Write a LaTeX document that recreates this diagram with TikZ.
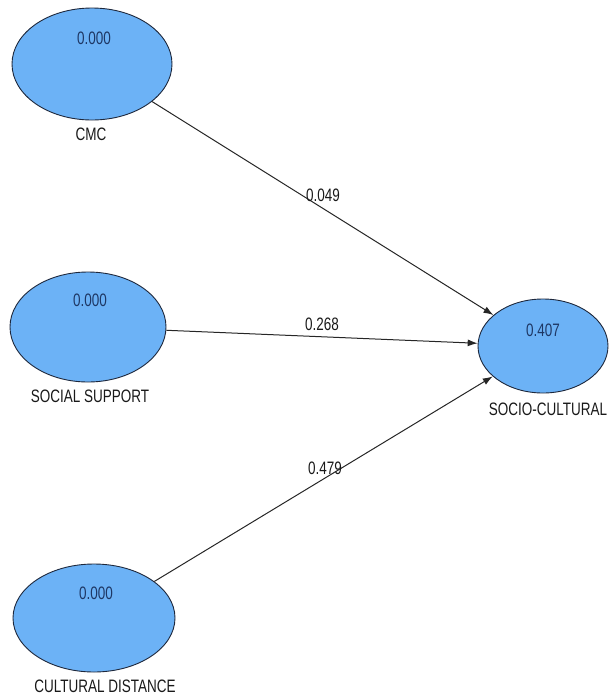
\documentclass[tikz,border=0pt]{standalone}
\usepackage{fontspec}
\setmainfont{Liberation Sans}[FakeStretch=0.75]
\usetikzlibrary{shapes.geometric,arrows.meta}
\definecolor{lvfill}{RGB}{108,178,246}
\definecolor{lvline}{RGB}{30,40,60}
\definecolor{valtext}{RGB}{30,55,100}
\definecolor{labtext}{RGB}{25,25,25}
\tikzset{
  latent/.style={ellipse, draw=lvline, fill=lvfill, line width=0.9pt, inner sep=0pt},
  value/.style={font=\fontsize{18}{18}\selectfont, text=valtext, inner sep=0pt},
  lvname/.style={font=\fontsize{18}{18}\selectfont, text=labtext, inner sep=0pt},
  coef/.style={font=\fontsize{18}{18}\selectfont, text=labtext, inner sep=0pt},
  path/.style={draw=black!85, line width=1pt, -{Latex[length=10pt,width=7pt]}}
}
\begin{document}
\begin{tikzpicture}[x=1pt,y=-1pt]
\useasboundingbox (0,0) rectangle (610,697);

% latent variables
\node[latent, minimum width=160pt, minimum height=112pt] (cmc) at (92,64) {};
\node[latent, minimum width=156pt, minimum height=110pt] (ss) at (88,327) {};
\node[latent, minimum width=162pt, minimum height=108pt] (cd) at (94,618) {};
\node[latent, minimum width=130pt, minimum height=94pt] (sc) at (543,346) {};

% R-squared values inside the constructs
\node[value] (cmcval) at (94,38) {0.000};
\node[value] (ssval) at (90,300) {0.000};
\node[value] (cdval) at (96,593) {0.000};
\node[value] (scval) at (543,330) {0.407};

% construct names
\node[lvname] (cmcname) at (91,134) {CMC};
\node[lvname] (ssname) at (90,396) {SOCIAL SUPPORT};
\node[lvname] (cdname) at (105,686) {CULTURAL DISTANCE};
\node[lvname] (scname) at (548,409) {SOCIO-CULTURAL};

% structural paths
\draw[path] (cmc) -- (sc);
\draw[path] (ss) -- (sc);
\draw[path] (cd) -- (sc);

% path coefficients
\node[coef] (c1) at (323,195) {0.049};
\node[coef] (c2) at (322,324) {0.268};
\node[coef] (c3) at (325,468) {0.479};
\end{tikzpicture}
\end{document}
